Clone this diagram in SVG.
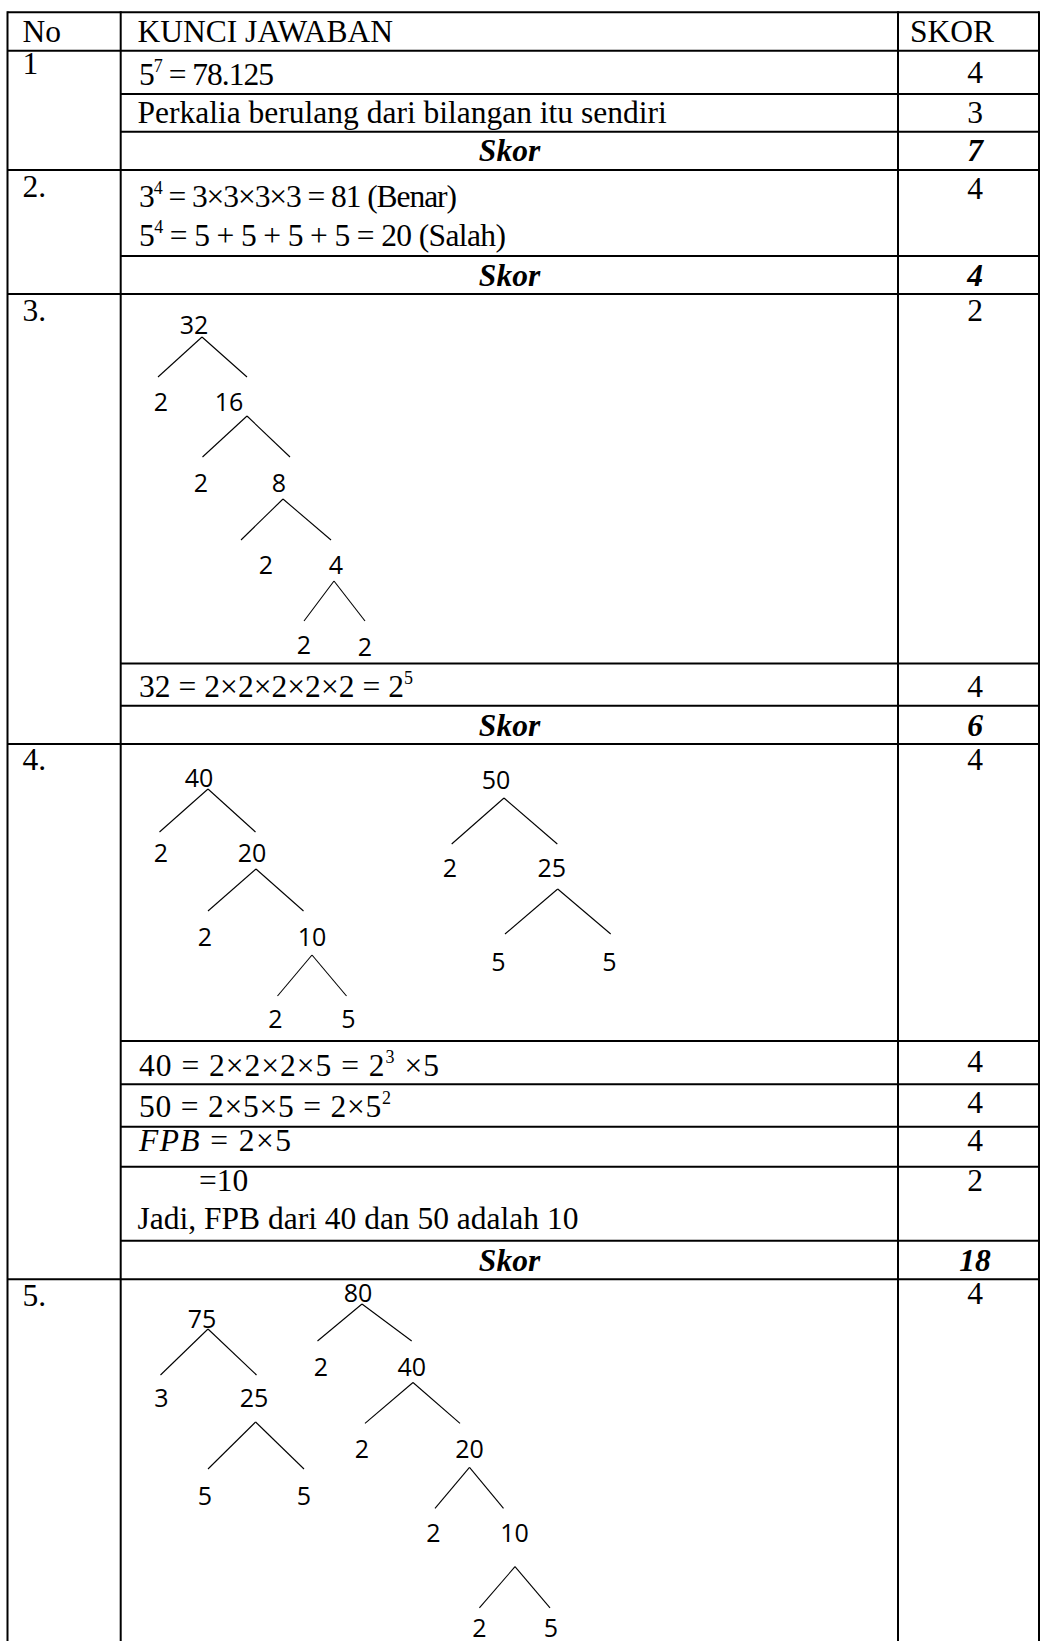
<svg xmlns="http://www.w3.org/2000/svg" width="1041" height="1641" viewBox="0 0 1041 1641">
<style>
.t{font-family:"Liberation Serif","Times New Roman",serif;font-size:31.5px;fill:#000}
.b{font-weight:bold;font-style:italic}
.i{font-style:italic}
.c{text-anchor:middle}
.s{font-size:18px}
.n{font-family:"Open Sans","Noto Sans",sans-serif;font-size:25px;text-anchor:middle;fill:#000}
.grid line{stroke:#000;stroke-width:2}
.edges line{stroke:#000;stroke-width:1.1}
</style>
<rect width="1041" height="1641" fill="#fff"/>
<g id="table-grid" class="grid">
<line x1="7.5" y1="12.3" x2="1039" y2="12.3"/>
<line x1="7.5" y1="50.7" x2="1039" y2="50.7"/>
<line x1="120.7" y1="94" x2="1039" y2="94"/>
<line x1="120.7" y1="131.7" x2="1039" y2="131.7"/>
<line x1="7.5" y1="170" x2="1039" y2="170"/>
<line x1="120.7" y1="256" x2="1039" y2="256"/>
<line x1="7.5" y1="294" x2="1039" y2="294"/>
<line x1="120.7" y1="663.5" x2="1039" y2="663.5"/>
<line x1="120.7" y1="705.7" x2="1039" y2="705.7"/>
<line x1="7.5" y1="744" x2="1039" y2="744"/>
<line x1="120.7" y1="1041" x2="1039" y2="1041"/>
<line x1="120.7" y1="1084.3" x2="1039" y2="1084.3"/>
<line x1="120.7" y1="1126.7" x2="1039" y2="1126.7"/>
<line x1="120.7" y1="1166.7" x2="1039" y2="1166.7"/>
<line x1="120.7" y1="1240.7" x2="1039" y2="1240.7"/>
<line x1="7.5" y1="1279.3" x2="1039" y2="1279.3"/>
<line x1="7.5" y1="11.3" x2="7.5" y2="1641"/>
<line x1="120.7" y1="11.3" x2="120.7" y2="1641"/>
<line x1="898" y1="11.3" x2="898" y2="1641"/>
<line x1="1039" y1="11.3" x2="1039" y2="1641"/>
</g>
<g id="header">
<text class="t" x="22.5" y="42">No</text>
<text class="t" x="137.5" y="42">KUNCI JAWABAN</text>
<text class="t" x="910" y="42">SKOR</text>
</g>
<g id="q1">
<text class="t" x="22.5" y="74">1</text>
<text class="t" x="139" y="85" textLength="135" lengthAdjust="spacing">5<tspan class="s" dy="-13">7</tspan><tspan dy="13"> = 78.125</tspan></text>
<text class="t c" x="975" y="83">4</text>
<text class="t" x="137.5" y="123">Perkalia berulang dari bilangan itu sendiri</text>
<text class="t c" x="975" y="123">3</text>
<text class="t b c" x="509.5" y="161">Skor</text>
<text class="t b c" x="975" y="161">7</text>
</g>
<g id="q2">
<text class="t" x="22.5" y="197">2.</text>
<text class="t" x="139" y="207" textLength="318" lengthAdjust="spacing">3<tspan class="s" dy="-13">4</tspan><tspan dy="13"> = 3×3×3×3 = 81 (Benar)</tspan></text>
<text class="t" x="139" y="246" textLength="367" lengthAdjust="spacing">5<tspan class="s" dy="-13">4</tspan><tspan dy="13"> = 5 + 5 + 5 + 5 = 20 (Salah)</tspan></text>
<text class="t c" x="975" y="199">4</text>
<text class="t b c" x="509.5" y="286">Skor</text>
<text class="t b c" x="975" y="286">4</text>
</g>
<g id="q3">
<text class="t" x="22.5" y="321">3.</text>
<text class="t c" x="975" y="321">2</text>
<g id="tree-32">
<text class="n" x="194" y="334">32</text>
<text class="n" x="161" y="411">2</text>
<text class="n" x="229" y="411">16</text>
<text class="n" x="201" y="492">2</text>
<text class="n" x="279" y="492">8</text>
<text class="n" x="266" y="574">2</text>
<text class="n" x="336" y="574">4</text>
<text class="n" x="304" y="654">2</text>
<text class="n" x="365" y="656">2</text>
</g>
<text class="t" x="139" y="697" textLength="274" lengthAdjust="spacing">32 = 2×2×2×2×2 = 2<tspan class="s" dy="-13">5</tspan></text>
<text class="t c" x="975" y="697">4</text>
<text class="t b c" x="509.5" y="736">Skor</text>
<text class="t b c" x="975" y="736">6</text>
</g>
<g id="q4">
<text class="t" x="22.5" y="770">4.</text>
<text class="t c" x="975" y="770">4</text>
<g id="tree-40">
<text class="n" x="199" y="787">40</text>
<text class="n" x="161" y="862">2</text>
<text class="n" x="252" y="862">20</text>
<text class="n" x="205" y="946">2</text>
<text class="n" x="312" y="946">10</text>
<text class="n" x="275.5" y="1028">2</text>
<text class="n" x="348.5" y="1028">5</text>
</g>
<g id="tree-50">
<text class="n" x="496" y="789">50</text>
<text class="n" x="450" y="877">2</text>
<text class="n" x="551.7" y="877">25</text>
<text class="n" x="498.3" y="971">5</text>
<text class="n" x="609.3" y="971">5</text>
</g>
<text class="t" x="139" y="1076" textLength="300" lengthAdjust="spacing">40 = 2×2×2×5 = 2<tspan class="s" dy="-13">3</tspan><tspan dy="13"> ×5</tspan></text>
<text class="t c" x="975" y="1072">4</text>
<text class="t" x="139" y="1117" textLength="252" lengthAdjust="spacing">50 = 2×5×5 = 2×5<tspan class="s" dy="-13">2</tspan></text>
<text class="t c" x="975" y="1113">4</text>
<text class="t" x="139" y="1151" textLength="152" lengthAdjust="spacing"><tspan class="i">FPB</tspan> = 2×5</text>
<text class="t c" x="975" y="1151">4</text>
<text class="t" x="199" y="1191">=10</text>
<text class="t c" x="975" y="1191">2</text>
<text class="t" x="137.5" y="1229">Jadi, FPB dari 40 dan 50 adalah 10</text>
<text class="t b c" x="509.5" y="1271">Skor</text>
<text class="t b c" x="975" y="1271">18</text>
</g>
<g id="q5">
<text class="t" x="22.5" y="1306">5.</text>
<text class="t c" x="975" y="1304">4</text>
<g id="tree-75">
<text class="n" x="202" y="1328">75</text>
<text class="n" x="161.5" y="1407">3</text>
<text class="n" x="254" y="1407">25</text>
<text class="n" x="205" y="1505">5</text>
<text class="n" x="304" y="1505">5</text>
</g>
<g id="tree-80">
<text class="n" x="358" y="1302">80</text>
<text class="n" x="321" y="1376">2</text>
<text class="n" x="411.7" y="1376">40</text>
<text class="n" x="362" y="1458">2</text>
<text class="n" x="469.5" y="1458">20</text>
<text class="n" x="433.5" y="1542">2</text>
<text class="n" x="514.5" y="1542">10</text>
<text class="n" x="479.4" y="1637">2</text>
<text class="n" x="551" y="1637">5</text>
</g>
</g>
<g id="connectors" class="edges">
<line x1="202" y1="337" x2="158" y2="377"/><line x1="202" y1="337" x2="247" y2="377"/>
<line x1="247" y1="416" x2="202.5" y2="457"/><line x1="247" y1="416" x2="290" y2="457"/>
<line x1="283" y1="499" x2="241" y2="540"/><line x1="283" y1="499" x2="331" y2="540"/>
<line x1="334" y1="581" x2="304" y2="621"/><line x1="334" y1="581" x2="365" y2="621"/>
<line x1="208" y1="789" x2="159.5" y2="832"/><line x1="208" y1="789" x2="255.5" y2="832"/>
<line x1="256" y1="869" x2="208" y2="911"/><line x1="256" y1="869" x2="303.5" y2="911"/>
<line x1="312" y1="955" x2="277.5" y2="996"/><line x1="312" y1="955" x2="346.5" y2="996"/>
<line x1="504" y1="798" x2="451.7" y2="844"/><line x1="504" y1="798" x2="557.3" y2="844"/>
<line x1="557.7" y1="889" x2="505" y2="934"/><line x1="557.7" y1="889" x2="610.7" y2="934"/>
<line x1="208" y1="1329" x2="160.5" y2="1375"/><line x1="208" y1="1329" x2="256.5" y2="1375"/>
<line x1="255.6" y1="1422" x2="208" y2="1469"/><line x1="255.6" y1="1422" x2="304" y2="1469"/>
<line x1="362" y1="1304" x2="317.5" y2="1341"/><line x1="362" y1="1304" x2="411.7" y2="1341"/>
<line x1="413" y1="1382.5" x2="365" y2="1423.3"/><line x1="413" y1="1382.5" x2="460" y2="1423.3"/>
<line x1="469.5" y1="1467.3" x2="435" y2="1508.3"/><line x1="469.5" y1="1467.3" x2="503.5" y2="1508.3"/>
<line x1="515" y1="1566.7" x2="479.4" y2="1607.8"/><line x1="515" y1="1566.7" x2="550" y2="1607.8"/>
</g>
</svg>
